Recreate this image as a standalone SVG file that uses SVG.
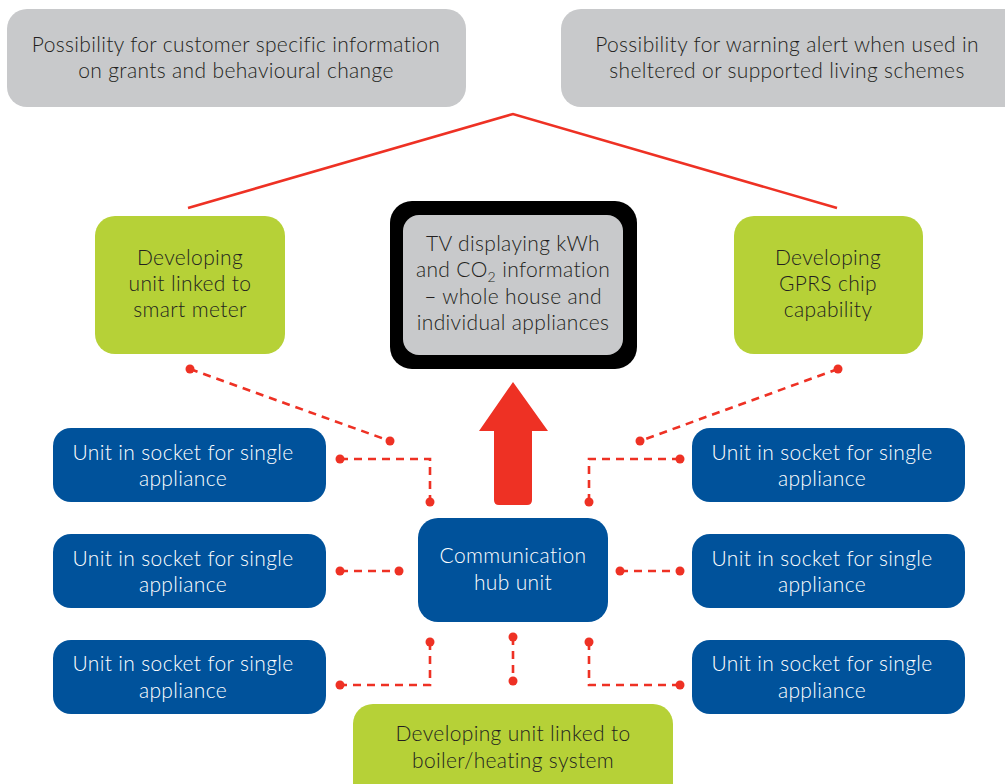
<svg xmlns="http://www.w3.org/2000/svg" width="1005" height="784" viewBox="0 0 1005 784">
  <style>
    .grey { fill: #c8c9cb; }
    .green { fill: #b6d137; }
    .blue { fill: #00529b; }
    .t { font-family: Lato, "Open Sans", "Liberation Sans", sans-serif; font-size: 21px; font-weight: 300; letter-spacing: 0.35px; text-anchor: middle; }
    .dark { fill: #231f20; }
    .light { fill: #ffffff; }
    .dash { fill: none; stroke: #ee3124; stroke-width: 2.6; stroke-dasharray: 8 6; }
    .dot { fill: #ee3124; }
  </style>

  <!-- connectors -->
  <g id="connectors">
    <polyline points="188,208 513,114 837,208" fill="none" stroke="#ee3124" stroke-width="2.6"/>
    <line class="dash" x1="190" y1="369" x2="390" y2="441"/>
    <line class="dash" x1="838" y1="369" x2="640" y2="441"/>
    <polyline class="dash" points="340,459 430,459 430,502"/>
    <polyline class="dash" points="680,459 589,459 589,502"/>
    <line class="dash" x1="340" y1="571" x2="399" y2="571"/>
    <line class="dash" x1="620" y1="571" x2="680" y2="571"/>
    <polyline class="dash" points="430,642 430,685 340,685"/>
    <polyline class="dash" points="589,642 589,685 680,685"/>
    <line class="dash" x1="513" y1="637" x2="513" y2="681"/>
    <g class="dot">
      <circle cx="190" cy="369" r="4.5"/><circle cx="390" cy="441" r="4.5"/>
      <circle cx="838" cy="369" r="4.5"/><circle cx="640" cy="441" r="4.5"/>
      <circle cx="340" cy="459" r="4.5"/><circle cx="430" cy="502" r="4.5"/>
      <circle cx="680" cy="459" r="4.5"/><circle cx="589" cy="502" r="4.5"/>
      <circle cx="340" cy="571" r="4.5"/><circle cx="399" cy="571" r="4.5"/>
      <circle cx="620" cy="571" r="4.5"/><circle cx="680" cy="571" r="4.5"/>
      <circle cx="430" cy="642" r="4.5"/><circle cx="340" cy="685" r="4.5"/>
      <circle cx="589" cy="642" r="4.5"/><circle cx="680" cy="685" r="4.5"/>
      <circle cx="513" cy="637" r="4.5"/><circle cx="513" cy="681" r="4.5"/>
    </g>
    <!-- big upward arrow from hub to TV -->
    <path d="M513,382 L548,431 L532,431 L532,500 Q532,505 527,505 L499,505 Q494,505 494,500 L494,431 L479,431 Z" fill="#ee3124"/>
  </g>

  <g id="info-grants">
    <rect class="grey" x="7" y="9" width="459" height="98" rx="20"/>
    <text class="t dark" x="236" y="52">Possibility for customer specific information</text>
    <text class="t dark" x="236" y="78">on grants and behavioural change</text>
  </g>

  <g id="warning-alert">
    <rect class="grey" x="561" y="9" width="470" height="98" rx="20"/>
    <text class="t dark" x="787" y="52">Possibility for warning alert when used in</text>
    <text class="t dark" x="787" y="78">sheltered or supported living schemes</text>
  </g>

  <g id="smart-meter">
    <rect class="green" x="95" y="216" width="190" height="138" rx="20"/>
    <text class="t dark" x="190" y="265">Developing</text>
    <text class="t dark" x="190" y="291">unit linked to</text>
    <text class="t dark" x="190" y="317">smart meter</text>
  </g>

  <g id="gprs">
    <rect class="green" x="734" y="216" width="189" height="138" rx="20"/>
    <text class="t dark" x="828" y="265">Developing</text>
    <text class="t dark" x="828" y="291">GPRS chip</text>
    <text class="t dark" x="828" y="317">capability</text>
  </g>

  <g id="tv">
    <rect x="390" y="201" width="247" height="168" rx="22" fill="#000000"/>
    <rect class="grey" x="403" y="215" width="220" height="140" rx="16"/>
    <text class="t dark" x="513" y="251">TV displaying kWh</text>
    <text class="t dark" x="513" y="277">and CO<tspan font-size="14" dy="5">2</tspan><tspan dy="-5"> information</tspan></text>
    <text class="t dark" x="513" y="304">– whole house and</text>
    <text class="t dark" x="513" y="330">individual appliances</text>
  </g>

  <g id="hub">
    <rect class="blue" x="418" y="518" width="190" height="104" rx="20"/>
    <text class="t light" x="513" y="563">Communication</text>
    <text class="t light" x="513" y="590">hub unit</text>
  </g>

  <g id="socket-left-1">
    <rect class="blue" x="53" y="428" width="273" height="74" rx="18"/>
    <text class="t light" x="183" y="460">Unit in socket for single</text>
    <text class="t light" x="183" y="486">appliance</text>
  </g>
  <g id="socket-left-2">
    <rect class="blue" x="53" y="534" width="273" height="74" rx="18"/>
    <text class="t light" x="183" y="566">Unit in socket for single</text>
    <text class="t light" x="183" y="592">appliance</text>
  </g>
  <g id="socket-left-3">
    <rect class="blue" x="53" y="640" width="273" height="74" rx="18"/>
    <text class="t light" x="183" y="671">Unit in socket for single</text>
    <text class="t light" x="183" y="698">appliance</text>
  </g>
  <g id="socket-right-1">
    <rect class="blue" x="692" y="428" width="273" height="74" rx="18"/>
    <text class="t light" x="822" y="460">Unit in socket for single</text>
    <text class="t light" x="822" y="486">appliance</text>
  </g>
  <g id="socket-right-2">
    <rect class="blue" x="692" y="534" width="273" height="74" rx="18"/>
    <text class="t light" x="822" y="566">Unit in socket for single</text>
    <text class="t light" x="822" y="592">appliance</text>
  </g>
  <g id="socket-right-3">
    <rect class="blue" x="692" y="640" width="273" height="74" rx="18"/>
    <text class="t light" x="822" y="671">Unit in socket for single</text>
    <text class="t light" x="822" y="698">appliance</text>
  </g>

  <g id="boiler">
    <rect class="green" x="353" y="704" width="320" height="100" rx="20"/>
    <text class="t dark" x="513" y="741">Developing unit linked to</text>
    <text class="t dark" x="513" y="768">boiler/heating system</text>
  </g>
</svg>
